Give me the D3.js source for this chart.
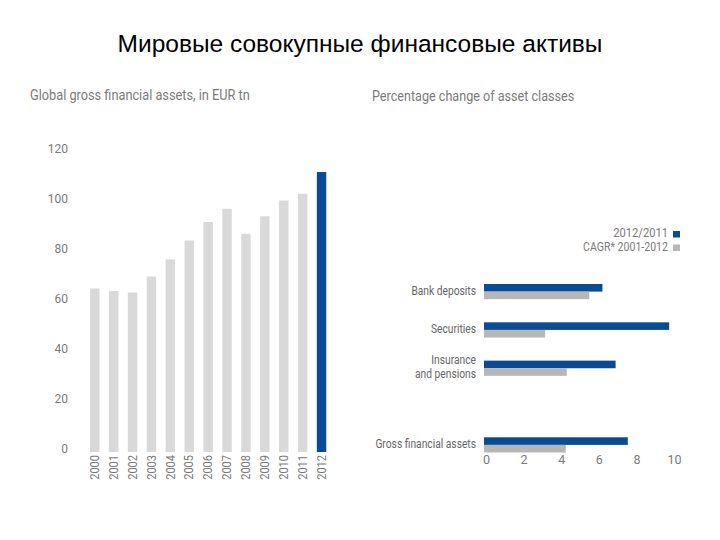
<!DOCTYPE html>
<html>
<head>
<meta charset="utf-8">
<script src="https://cdn.jsdelivr.net/npm/d3@7"></script>
<style>
  body { margin: 0; background: #fff; }
  svg { display: block; }
  .cond { font-family: "Roboto", "Liberation Sans", sans-serif; }
</style>
</head>
<body>
<svg id="chart" width="720" height="540"></svg>
<script>
// ---- Data ----
const years = ["2000","2001","2002","2003","2004","2005","2006","2007","2008","2009","2010","2011","2012"];
const grossAssets = [64.6, 63.6, 63.0, 69.4, 76.2, 83.8, 91.2, 96.5, 86.5, 93.5, 99.8, 102.5, 111.2];
const yTicks = [0, 20, 40, 60, 80, 100, 120];

const assetClasses = ["Bank deposits", "Securities", "Insurance and pensions", "Gross financial assets"];
const change2012 = [6.3, 9.85, 7.0, 7.65];
const cagr = [5.6, 3.25, 4.4, 4.35];
const xTicks = [0, 2, 4, 6, 8, 10];
const seriesNames = ["2012/2011", "CAGR* 2001-2012"];

const BLUE = "#0b4b93", LIGHT = "#d9d9d9", MID = "#b7b7b7", TXT = "#7a7a7a";

const svg = d3.select("#chart");

// narrow the text horizontally to mimic the condensed typeface of the original
function condense(sel, f) {
  sel.each(function () {
    const w = this.getComputedTextLength();
    d3.select(this).attr("textLength", w * f).attr("lengthAdjust", "spacingAndGlyphs");
  });
}

// Main title
svg.append("text").attr("x", 360).attr("y", 52).attr("text-anchor", "middle")
  .style("font-family", "Liberation Sans, Arial, sans-serif").style("font-size", "24.5px").attr("fill", "#000")
  .text("Мировые совокупные финансовые активы");

// ---- Left chart ----
svg.append("text").attr("class", "cond").attr("x", 30).attr("y", 100)
  .style("font-size", "15px").attr("fill", TXT).text("Global gross financial assets, in EUR tn")
  .call(condense, 0.85);

const x1 = d3.scaleBand().domain(years).range([85.3, 331]).paddingInner(0.5).paddingOuter(0.25);
const y1 = d3.scaleLinear().domain([0, 120]).range([450, 150]);

const gY = svg.append("g").attr("class", "cond").attr("transform", "translate(68,0)")
  .call(d3.axisLeft(y1).tickValues(yTicks).tickSize(0).tickPadding(0));
gY.select(".domain").remove();
gY.selectAll("text").style("font-size", "12px").attr("fill", TXT).attr("dy", "0.2em");

svg.append("g").selectAll("rect").data(grossAssets).join("rect")
  .attr("x", (d, i) => x1(years[i]))
  .attr("width", x1.bandwidth())
  .attr("y", d => y1(d))
  .attr("height", d => y1(0) - y1(d) + 2)
  .attr("fill", (d, i) => i === years.length - 1 ? BLUE : LIGHT);

const gX1 = svg.append("g").attr("class", "cond").attr("transform", "translate(0,453)")
  .call(d3.axisBottom(x1).tickSize(0).tickPadding(0));
gX1.select(".domain").remove();
gX1.selectAll("text")
  .style("font-size", "12px").attr("fill", TXT)
  .attr("transform", "rotate(-90)")
  .attr("text-anchor", "end").attr("x", -2).attr("y", 0).attr("dy", "0.35em")
  .call(condense, 0.92);

// ---- Right chart ----
svg.append("text").attr("class", "cond").attr("x", 372).attr("y", 101)
  .style("font-size", "15px").attr("fill", TXT).text("Percentage change of asset classes")
  .call(condense, 0.84);

const x2 = d3.scaleLinear().domain([0, 10]).range([484, 672]);
const slots = [assetClasses[0], assetClasses[1], assetClasses[2], "__gap__", assetClasses[3]];
const y2 = d3.scaleBand().domain(slots).range([284, 452.5]).paddingInner(0.603).paddingOuter(0);

const barH = y2.bandwidth() / 2;
const gBars = svg.append("g");
assetClasses.forEach((c, i) => {
  const top = y2(c);
  gBars.append("rect").attr("x", x2(0)).attr("y", top)
    .attr("width", x2(change2012[i]) - x2(0)).attr("height", barH).attr("fill", BLUE);
  gBars.append("rect").attr("x", x2(0)).attr("y", top + barH)
    .attr("width", x2(cagr[i]) - x2(0)).attr("height", barH).attr("fill", MID);
});

// Category labels
const labelG = svg.append("g").attr("class", "cond").style("font-size", "12.5px").attr("fill", "#666");
assetClasses.forEach((c, i) => {
  const mid = y2(c) + barH;
  if (c === "Insurance and pensions") {
    labelG.append("text").attr("x", 476).attr("y", mid - 4).attr("text-anchor", "end").text("Insurance");
    labelG.append("text").attr("x", 476).attr("y", mid + 10).attr("text-anchor", "end").text("and pensions");
  } else {
    labelG.append("text").attr("x", 476).attr("y", mid + 3).attr("text-anchor", "end").text(c);
  }
});
labelG.selectAll("text").call(condense, 0.82);

const gX2 = svg.append("g").attr("class", "cond").attr("transform", "translate(2,455)")
  .call(d3.axisBottom(x2).tickValues(xTicks).tickSize(0).tickPadding(0));
gX2.select(".domain").remove();
gX2.selectAll("text").style("font-size", "12.5px").attr("fill", TXT).attr("dy", "0.7em");

// Legend
const legend = svg.append("g").attr("class", "cond");
seriesNames.forEach((s, i) => {
  const yy = 237 + i * 13.5;
  legend.append("text").attr("x", 668).attr("y", yy).attr("text-anchor", "end")
    .style("font-size", "12px").attr("fill", TXT).text(s)
    .call(condense, i === 0 ? 0.93 : 0.88);
  legend.append("rect").attr("x", 673).attr("y", yy - 6).attr("width", 7).attr("height", 6.5)
    .attr("fill", i === 0 ? BLUE : MID);
});
</script>
</body>
</html>
